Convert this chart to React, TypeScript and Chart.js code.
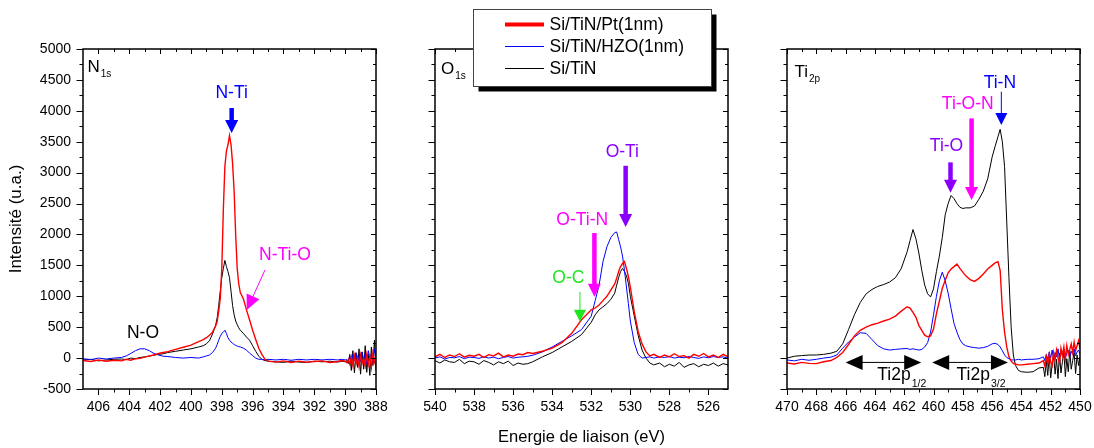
import React, { useEffect, useRef } from "react";
import { Chart, registerables } from "chart.js";

Chart.register(...registerables);

// ---------- data ----------
const seriesNames = ["Si/TiN/Pt(1nm)", "Si/TiN/HZO(1nm)", "Si/TiN"];

const yTicks = [-500, 0, 500, 1000, 1500, 2000, 2500, 3000, 3500, 4000, 4500, 5000];
const n1sXTicks = [406, 404, 402, 400, 398, 396, 394, 392, 390, 388];
const o1sXTicks = [540, 538, 536, 534, 532, 530, 528, 526];
const ti2pXTicks = [470, 468, 466, 464, 462, 460, 458, 456, 454, 452, 450];

// N1s
const n1sEnergy = [407, 406.5, 406, 405.5, 405, 404.5, 404.2, 403.9, 403.6, 403.3, 403.0, 402.7, 402.4, 402.1, 401.8, 401.5, 401, 400.5, 400, 399.5, 399.2, 399, 398.8, 398.6, 398.4, 398.3, 398.2, 398.1, 398.0, 397.9, 397.8, 397.7, 397.6, 397.5, 397.4, 397.3, 397.2, 397.1, 397.0, 396.9, 396.8, 396.6, 396.4, 396.2, 396.0, 395.8, 395.6, 395.4, 395.2, 395.0, 394.5, 394, 393.5, 393, 392.5, 392, 391.5, 391, 390.5, 390.2,
  390.0, 389.9, 389.8, 389.7, 389.6, 389.5, 389.4, 389.3, 389.2, 389.1, 389.0, 388.9, 388.8, 388.7, 388.6, 388.5, 388.4, 388.3, 388.2, 388.1, 388.0];
const n1sPt = [-40, -55, -30, -50, -35, -45, -20, -35, -10, -5, 15, 35, 50, 75, 90, 105, 140, 175, 210, 265, 300, 330, 370, 420, 520, 590, 760, 960, 1450, 2400, 3100, 3350, 3450, 3600, 3450, 3150, 2700, 2000, 1450, 1200, 1060, 960, 780, 620, 450, 300, 160, 60, -20, -50, -65, -45, -70, -50, -65, -55, -45, -70, -55, -40,
  -50, -70, -30, -100, 20, -120, 40, -90, 10, -140, 50, -80, -10, -130, 60, -100, 30, -150, 80, -60, 40];
const n1sHzo = [-10, -25, 0, -15, 0, 10, 35, 75, 120, 150, 150, 120, 75, 50, 30, 25, 10, 0, 10, 0, 20, 35, 50, 90, 160, 220, 290, 350, 400, 420, 450, 400, 330, 290, 260, 240, 220, 205, 195, 185, 180, 160, 130, 80, 40, 0, -20, -20, -30, -20, -30, -20, -35, -20, -30, -20, -30, -20, -30, -20,
  -30, -20, -50, 30, -80, 60, -40, 90, -70, 40, -60, 100, -30, 70, -90, 120, -20, 60, -80, 150, 0];
const n1sTin = [-30, -20, -45, -30, -20, -15, -25, 0, -10, 10, 20, 30, 50, 60, 70, 90, 110, 130, 150, 180, 200, 230, 280, 390, 530, 650, 850, 1080, 1300, 1450, 1580, 1480, 1400, 1300, 1080, 850, 700, 600, 540, 490, 450, 400, 340, 290, 200, 110, 30, -20, -40, -50, -60, -70, -50, -65, -70, -50, -60, -50, -65, -50,
  -60, -40, -90, 60, -200, 120, -240, 80, -150, 150, -260, 100, -180, 200, -230, 60, -280, 180, -120, 290, -200];

// O1s
const o1sEnergy = [540, 539.75, 539.5, 539.25, 539, 538.75, 538.5, 538.25, 538, 537.75, 537.5, 537.25, 537, 536.75, 536.5, 536.25, 536, 535.75, 535.5, 535.25, 535,
  534.5, 534, 533.5, 533, 532.5, 532, 531.8, 531.6, 531.4, 531.2, 531.0, 530.8, 530.7, 530.6, 530.5, 530.4, 530.3, 530.2, 530.1, 530.0, 529.8, 529.6, 529.4, 529.2, 529.0,
  528.8, 528.5, 528.25, 528, 527.75, 527.5, 527.25, 527, 526.75, 526.5, 526.25, 526, 525.75, 525.5, 525.25, 525];
const o1sPt = [20, 60, 10, 50, 25, 70, 15, 45, 30, 60, 10, 55, 35, 80, 20, 50, 30, 65, 55, 90, 75,
  110, 160, 250, 400, 620, 780, 810, 860, 930, 1000, 1100, 1200, 1290, 1400, 1480, 1530, 1560, 1450, 1320, 1150, 750, 430, 230, 100, 35,
  60, 10, 50, 20, 70, 25, 40, 0, 60, 30, 75, 20, 50, 10, 60, 20];
const o1sHzo = [0, 20, -15, 10, 5, 25, -10, 15, 10, -5, 20, 0, 15, -10, 10, 25, 0, 15, 20, 30, 45,
  100, 180, 270, 360, 460, 680, 930, 1180, 1560, 1800, 1950, 2030, 2040, 1920, 1800, 1650, 1420, 1150, 880, 600, 250, 60, 0, 10, 20,
  0, 20, 10, 25, 0, 15, 5, 25, 10, -5, 20, 5, 25, 10, 20, 0];
const o1sTin = [-40, -80, -30, -60, -70, -20, -90, -50, -60, -100, -40, -70, -110, -60, -90, -50, -120, -80, -100, -90, -60,
  20, 90, 180, 270, 380, 580, 700, 780, 830, 880, 950, 1050, 1180, 1300, 1400, 1450, 1400, 1330, 1210, 1000, 680, 370, 130, 0, -80,
  -110, -80, -140, -100, -130, -70, -150, -110, -90, -140, -100, -120, -80, -130, -90, -110];

// Ti2p
const ti2pEnergy = [470, 469.5, 469, 468.5, 468, 467.5, 467, 466.6, 466.2, 465.8, 465.4, 465.0, 464.6, 464.2, 463.8, 463.4, 463.0, 462.6, 462.2, 461.8, 461.6, 461.4, 461.2, 461.0, 460.8, 460.6, 460.4, 460.2, 460.0, 459.8, 459.6, 459.4, 459.2, 459.0, 458.8, 458.6, 458.4, 458.2, 458.0, 457.8, 457.5, 457.2, 456.9, 456.6, 456.3, 456.0, 455.8, 455.6, 455.45, 455.3, 455.15, 455.0, 454.85, 454.7, 454.55, 454.4, 454.2, 454.0, 453.6, 453.2, 452.8,
  452.5, 452.4, 452.3, 452.2, 452.1, 452.0, 451.9, 451.8, 451.7, 451.6, 451.5, 451.4, 451.3, 451.2, 451.1, 451.0, 450.9, 450.8, 450.7, 450.6, 450.5, 450.4, 450.3, 450.2, 450.1, 450.0];
const ti2pPt = [-80, -95, -70, -85, -90, -60, -40, 10, 90, 220, 360, 450, 500, 540, 565, 600, 630, 680, 760, 830, 810, 740, 660, 530, 450, 370, 345, 360, 470, 720, 920, 1130, 1260, 1380, 1440, 1480, 1520, 1450, 1390, 1330, 1270, 1240, 1290, 1360, 1440, 1500, 1540, 1560, 1420, 780, 420, 180, 20, -50, -85, -100, -110, -110, -100, -90, -80,
  -40, -130, 20, -100, 60, -60, -120, 90, -30, 130, 0, -80, 160, 40, 180, -20, 200, 60, 140, 230, 90, 260, 120, 200, 280, 150];
const ti2pHzo = [-30, -45, -20, -35, -20, 0, 15, 50, 160, 260, 340, 410, 400, 300, 200, 150, 130, 140, 150, 155, 140, 150, 140, 130, 140, 180, 250, 420, 700, 1000, 1250, 1390, 1250, 1050, 800, 560, 420, 300, 230, 200, 180, 170, 160, 170, 190, 230, 240, 220, 180, 120, 50, 10, -10, -30, -30, -30, -20, -30, -20, -20, -10,
  20, -40, 60, -20, 100, 0, 130, -30, 90, 20, 150, -10, 110, 40, 140, 0, 90, 130, 20, 110, 60, 150, 40, 100, 130, 60];
const ti2pTin = [0, 30, 40, 50, 50, 60, 80, 110, 230, 460, 700, 900, 1040, 1110, 1160, 1190, 1230, 1300, 1450, 1720, 1900, 2080, 1930, 1700, 1420, 1180, 1040, 990, 1120, 1400, 1650, 1950, 2320, 2500, 2630, 2580, 2500, 2440, 2420, 2430, 2430, 2460, 2570, 2700, 2900, 3250, 3420, 3580, 3700, 3500, 3100, 2200, 1300, 500, 50, -120, -200, -220, -230, -220, -160,
  -150, -300, -50, -280, 40, -320, -100, 60, -260, -20, -330, 80, -240, -60, 100, -300, -10, -220, 120, -180, -40, 90, -250, 50, -120, 20];

// annotations (energy, intensity)
const n1sLabels = [
  { text: "N-Ti", e: 397.36, i: 4288, color: "#0000ff" },
  { text: "N-Ti-O", e: 393.9, i: 1667, color: "#ff00ff" },
  { text: "N-O", e: 403.11, i: 405, color: "#000000" },
];
const n1sArrows = [
  { from: [397.36, 4045], to: [397.36, 3640], color: "#0000ff", style: "thick" },
  { from: [395.2, 1424], to: [396.38, 777], color: "#ff00ff", style: "diag" },
];
const o1sLabels = [
  { text: "O-Ti", e: 530.41, i: 3338, color: "#8a00ff" },
  { text: "O-Ti-N", e: 532.46, i: 2233, color: "#ff00ff" },
  { text: "O-C", e: 533.17, i: 1290, color: "#1ee61e" },
];
const o1sArrows = [
  { from: [530.24, 3111], to: [530.24, 2120], color: "#8a00ff", style: "thick" },
  { from: [531.84, 2023], to: [531.84, 992], color: "#ff00ff", style: "thick" },
  { from: [532.58, 1073], to: [532.58, 587], color: "#1ee61e", style: "thin" },
];
const ti2pLabels = [
  { text: "Ti-N", e: 455.47, i: 4445, color: "#0000ff" },
  { text: "Ti-O-N", e: 457.66, i: 4105, color: "#ff00ff" },
  { text: "Ti-O", e: 459.11, i: 3435, color: "#8a00ff" },
];
const ti2pArrows = [
  { from: [455.37, 4309], to: [455.37, 3770], color: "#0000ff", style: "thin" },
  { from: [457.4, 3878], to: [457.4, 2556], color: "#ff00ff", style: "thick" },
  { from: [458.84, 3166], to: [458.84, 2675], color: "#8a00ff", style: "thick" },
  { from: [466.0, -70], to: [460.84, -70], color: "#000000", style: "double" },
  { from: [460.09, -70], to: [454.92, -70], color: "#000000", style: "double" },
];
const ti2pSubLabels = [
  { main: "Ti2p", sub: "1/2", e: 463.84, i: -356 },
  { main: "Ti2p", sub: "3/2", e: 458.43, i: -356 },
];

// ---------- layout / style ----------
const W = 1094;
const H = 448;
const PLOT_TOP = 49;
const PLOT_BOTTOM = 389;
const Y_AXIS_W = 83;
const FONT = "Arial, 'Liberation Sans', sans-serif";
const COLORS = ["#ff0000", "#0000ff", "#000000"];
const WIDTHS = [1.4, 1, 1];

const ARROW_STYLES: any = {
  thick: { shaft: 4.5, headLen: 13, headW: 13, double: false },
  thin: { shaft: 1, headLen: 12, headW: 12, double: false },
  diag: { shaft: 1, headLen: 15, headW: 14, double: false },
  double: { shaft: 1, headLen: 17, headW: 15, double: true },
};

const panels: any[] = [
  {
    id: "n1s", left: 83, right: 376, xMin: 388, xMax: 407, xTicks: n1sXTicks, showY: true,
    energy: n1sEnergy, series: [n1sPt, n1sHzo, n1sTin],
    labels: n1sLabels, arrows: n1sArrows, subLabels: [],
    name: { main: "N", sub: "1s", dx: 4.5, dy: 22.5 }, legend: false, xTitle: false,
  },
  {
    id: "o1s", left: 435, right: 728, xMin: 525, xMax: 540, xTicks: o1sXTicks, showY: false,
    energy: o1sEnergy, series: [o1sPt, o1sHzo, o1sTin],
    labels: o1sLabels, arrows: o1sArrows, subLabels: [],
    name: { main: "O", sub: "1s", dx: 6, dy: 25 }, legend: true, xTitle: true,
  },
  {
    id: "ti2p", left: 787, right: 1080, xMin: 450, xMax: 470, xTicks: ti2pXTicks, showY: false,
    energy: ti2pEnergy, series: [ti2pPt, ti2pHzo, ti2pTin],
    labels: ti2pLabels, arrows: ti2pArrows, subLabels: ti2pSubLabels,
    name: { main: "Ti", sub: "2p", dx: 7.5, dy: 27.5 }, legend: false, xTitle: false,
  },
];

function minorsOf(ticks: number[]) {
  const out: number[] = [];
  for (let k = 0; k < ticks.length - 1; k++) out.push((ticks[k] + ticks[k + 1]) / 2);
  return out;
}

function drawHead(ctx: CanvasRenderingContext2D, tx: number, ty: number, ux: number, uy: number, L: number, Wd: number) {
  const nx = -uy, ny = ux;
  const bx = tx - ux * L, by = ty - uy * L;
  ctx.beginPath();
  ctx.moveTo(tx, ty);
  ctx.lineTo(bx + (nx * Wd) / 2, by + (ny * Wd) / 2);
  ctx.lineTo(bx - (nx * Wd) / 2, by - (ny * Wd) / 2);
  ctx.closePath();
  ctx.fill();
}

function drawArrow(ctx: CanvasRenderingContext2D, x1: number, y1: number, x2: number, y2: number, color: string, style: string) {
  const s = ARROW_STYLES[style];
  const dx = x2 - x1, dy = y2 - y1;
  const len = Math.hypot(dx, dy);
  const ux = dx / len, uy = dy / len;
  ctx.save();
  ctx.strokeStyle = color;
  ctx.fillStyle = color;
  ctx.lineWidth = s.shaft;
  ctx.lineCap = "butt";
  const a = s.double ? s.headLen - 1 : 0;
  const b = len - s.headLen + 1;
  ctx.beginPath();
  ctx.moveTo(x1 + ux * a, y1 + uy * a);
  ctx.lineTo(x1 + ux * b, y1 + uy * b);
  ctx.stroke();
  drawHead(ctx, x2, y2, ux, uy, s.headLen, s.headW);
  if (s.double) drawHead(ctx, x1, y1, -ux, -uy, s.headLen, s.headW);
  ctx.restore();
}

function drawLegend(ctx: CanvasRenderingContext2D) {
  const bx = 473.5, by = 9.5, bw = 238, bh = 77;
  ctx.save();
  ctx.fillStyle = "#000";
  ctx.fillRect(bx + 5, by + 5, bw, bh);
  ctx.fillStyle = "#fff";
  ctx.fillRect(bx, by, bw, bh);
  ctx.strokeStyle = "#444";
  ctx.lineWidth = 1;
  ctx.strokeRect(bx, by, bw, bh);
  const rows = [24.5, 46.5, 68.5];
  ctx.font = `17.5px ${FONT}`;
  ctx.textBaseline = "middle";
  ctx.textAlign = "left";
  seriesNames.forEach((name, k) => {
    ctx.strokeStyle = COLORS[k];
    ctx.lineWidth = k === 0 ? 4 : 1;
    ctx.beginPath();
    ctx.moveTo(505, rows[k]);
    ctx.lineTo(544, rows[k]);
    ctx.stroke();
    ctx.fillStyle = "#000";
    ctx.fillText(name, 549.5, rows[k] + 1);
  });
  ctx.restore();
}

function makePlugin(p: any) {
  return {
    id: "deco_" + p.id,
    afterDatasetsDraw(chart: any) {
      const { ctx, chartArea: a, scales } = chart;
      const xs = scales.x, ys = scales.y;
      ctx.save();
      ctx.font = `17.5px ${FONT}`;
      ctx.textAlign = "center";
      ctx.textBaseline = "middle";
      p.labels.forEach((l: any) => {
        ctx.fillStyle = l.color;
        ctx.fillText(l.text, xs.getPixelForValue(l.e), ys.getPixelForValue(l.i));
      });
      p.arrows.forEach((ar: any) => {
        drawArrow(
          ctx,
          xs.getPixelForValue(ar.from[0]), ys.getPixelForValue(ar.from[1]),
          xs.getPixelForValue(ar.to[0]), ys.getPixelForValue(ar.to[1]),
          ar.color, ar.style
        );
      });
      ctx.textAlign = "left";
      ctx.textBaseline = "alphabetic";
      ctx.fillStyle = "#000";
      p.subLabels.forEach((s: any) => {
        const x = xs.getPixelForValue(s.e), y = ys.getPixelForValue(s.i);
        ctx.font = `17.5px ${FONT}`;
        ctx.fillText(s.main, x, y);
        const w = ctx.measureText(s.main).width;
        ctx.font = `10.5px ${FONT}`;
        ctx.fillText(s.sub, x + w + 1, y + 7);
      });
      const nx = a.left + p.name.dx, ny = a.top + p.name.dy;
      ctx.font = `17px ${FONT}`;
      ctx.fillText(p.name.main, nx, ny);
      const nw = ctx.measureText(p.name.main).width;
      ctx.font = `10px ${FONT}`;
      ctx.fillText(p.name.sub, nx + nw + 1, ny + 5);
      ctx.restore();
    },
    afterDraw(chart: any) {
      const { ctx, chartArea: a, scales } = chart;
      const xs = scales.x, ys = scales.y;
      ctx.save();
      ctx.strokeStyle = "#000";
      ctx.lineWidth = 1;
      ctx.beginPath();
      const yLine = (v: number, outL: number, inR: number) => {
        const y = Math.round(ys.getPixelForValue(v)) + 0.5;
        ctx.moveTo(a.left - outL, y);
        ctx.lineTo(a.left, y);
        ctx.moveTo(a.right, y);
        ctx.lineTo(a.right - inR, y);
      };
      const xLine = (v: number, outB: number, inT: number) => {
        const x = Math.round(xs.getPixelForValue(v)) + 0.5;
        ctx.moveTo(x, a.bottom);
        ctx.lineTo(x, a.bottom + outB);
        ctx.moveTo(x, a.top);
        ctx.lineTo(x, a.top + inT);
      };
      yTicks.forEach((v) => yLine(v, 6.5, 5));
      minorsOf(yTicks).forEach((v) => yLine(v, 3.5, 3));
      p.xTicks.forEach((v: number) => xLine(v, 6, 5));
      minorsOf(p.xTicks).forEach((v: number) => xLine(v, 3.5, 3));
      ctx.stroke();
      ctx.lineWidth = 1.5;
      ctx.strokeRect(a.left, a.top, a.right - a.left, a.bottom - a.top);
      ctx.restore();
      if (p.legend) drawLegend(ctx);
    },
  };
}

function buildConfig(p: any): any {
  const datasets = p.series.map((vals: number[], k: number) => ({
    label: seriesNames[k],
    data: p.energy.map((e: number, j: number) => ({ x: e, y: vals[j] })),
    borderColor: COLORS[k],
    borderWidth: WIDTHS[k],
    pointRadius: 0,
    tension: 0,
    fill: false,
  }));
  const tickFont = { family: FONT, size: 14 };
  return {
    type: "line",
    data: { datasets },
    options: {
      responsive: false,
      animation: false,
      events: [],
      layout: {
        padding: { left: p.showY ? p.left - Y_AXIS_W : p.left, right: W - p.right, top: PLOT_TOP, bottom: 0 },
      },
      plugins: { legend: { display: false }, tooltip: { enabled: false } },
      scales: {
        x: {
          type: "linear",
          reverse: true,
          min: p.xMin,
          max: p.xMax,
          afterBuildTicks: (s: any) => { s.ticks = p.xTicks.map((v: number) => ({ value: v })); },
          afterFit: (s: any) => { s.height = H - PLOT_BOTTOM; s.paddingLeft = 0; s.paddingRight = 0; },
          grid: { display: false, drawTicks: false },
          border: { display: false },
          ticks: { autoSkip: false, maxRotation: 0, minRotation: 0, padding: 10, font: tickFont, color: "#000", callback: (v: any) => String(v) },
          title: {
            display: p.xTitle,
            text: "Energie de liaison (eV)",
            color: "#000",
            font: { family: FONT, size: 16.5 },
            padding: { top: 0, bottom: 1 },
          },
        },
        y: {
          type: "linear",
          display: p.showY,
          min: -500,
          max: 5000,
          afterBuildTicks: (s: any) => { s.ticks = yTicks.map((v) => ({ value: v })); },
          afterFit: (s: any) => { s.width = p.showY ? Y_AXIS_W : 0; },
          grid: { display: false, drawTicks: false },
          border: { display: false },
          ticks: { padding: 12, font: tickFont, color: "#000", callback: (v: any) => String(v) },
          title: {
            display: p.showY,
            text: "Intensité (u.a.)",
            color: "#000",
            font: { family: FONT, size: 17 },
            padding: { top: 6, bottom: 0 },
          },
        },
      },
    },
    plugins: [makePlugin(p)],
  };
}

function Panel({ def }: { def: any }) {
  const ref = useRef<HTMLCanvasElement>(null);
  useEffect(() => {
    const chart = new Chart(ref.current as HTMLCanvasElement, buildConfig(def));
    return () => chart.destroy();
  }, [def]);
  return (
    <canvas
      ref={ref}
      width={W}
      height={H}
      style={{ position: "absolute", left: 0, top: 0, width: W, height: H }}
    />
  );
}

export default function App() {
  return (
    <div style={{ position: "fixed", left: 0, top: 0, width: W, height: H, background: "#fff", overflow: "hidden" }}>
      {panels.map((p) => (
        <Panel key={p.id} def={p} />
      ))}
    </div>
  );
}
